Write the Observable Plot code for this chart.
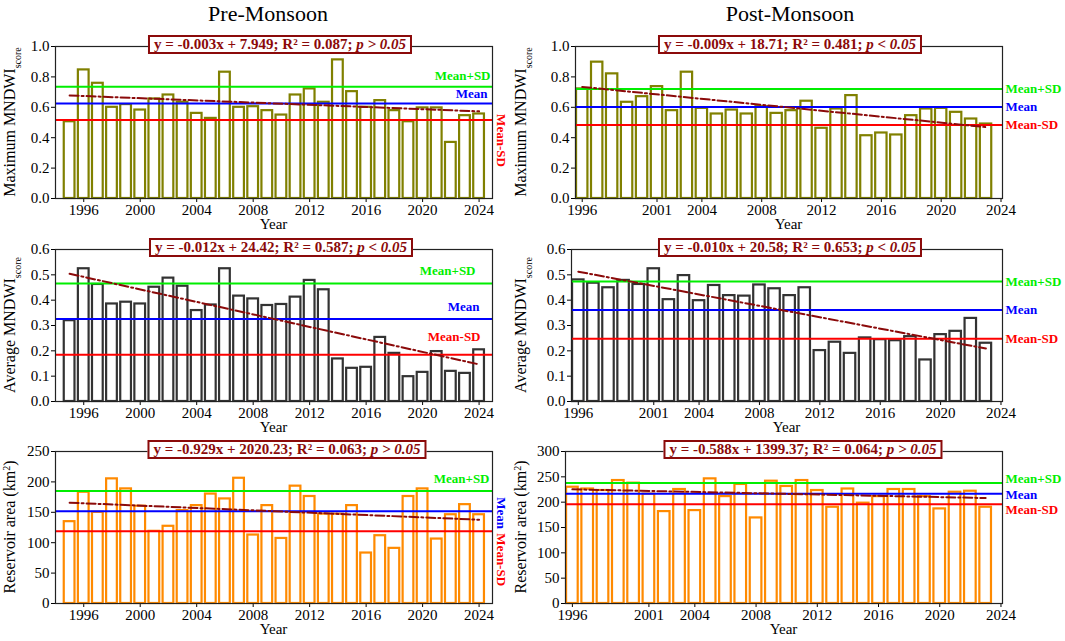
<!DOCTYPE html>
<html>
<head>
<meta charset="utf-8">
<script src="https://cdn.jsdelivr.net/npm/d3@7"></script>
<script src="https://cdn.jsdelivr.net/npm/@observablehq/plot@0.6"></script>
<style>
  body { margin: 0; background: #fff; }
  #fig { position: relative; width: 1065px; height: 641px; font-family: "Liberation Serif", "Times New Roman", serif; overflow: hidden; }
  #fig svg { position: absolute; }
  #fig svg, #fig svg text { font-family: "Liberation Serif", "Times New Roman", serif !important; }
  #fig svg g[aria-label*="axis"] text { font-size: 15px !important; fill: #000; }
  .col-title { position: absolute; top: 2px; font-size: 22px; font-weight: normal; line-height: 24px; transform: translateX(-50%); white-space: nowrap; }
  .eq { position: absolute; transform: translateX(-50%); background: #fff; border: 2px solid #8b0a0a; color: #8b0a0a;
        font-weight: bold; font-size: 15px; line-height: 15px; padding: 0 4px; white-space: nowrap; }
</style>
</head>
<body>
<div id="fig"></div>
<script>
// years
const preYears = [1995, 1996, 1997, 1998, 1999, 2000, 2001, 2002, 2003, 2004, 2005, 2006, 2007, 2008, 2009,
                  2010, 2011, 2012, 2013, 2014, 2015, 2016, 2017, 2018, 2019, 2020, 2021, 2022, 2023, 2024];
const postYears = [1996, 1997, 1998, 1999, 2000, 2001, 2002, 2003, 2004, 2005, 2006, 2007, 2008, 2009,
                   2010, 2011, 2012, 2013, 2014, 2015, 2016, 2017, 2018, 2019, 2020, 2021, 2022, 2023];

// series
const preMax = [0.505, 0.846, 0.758, 0.600, 0.618, 0.582, 0.655, 0.681, 0.633, 0.560, 0.527, 0.831, 0.600, 0.604, 0.578,
                0.549, 0.681, 0.721, 0.633, 0.912, 0.703, 0.600, 0.644, 0.578, 0.505, 0.596, 0.596, 0.369, 0.545, 0.556];
const preAvg = [0.319, 0.524, 0.462, 0.385, 0.392, 0.385, 0.451, 0.487, 0.455, 0.359, 0.381, 0.524, 0.416, 0.405, 0.379,
                0.383, 0.412, 0.478, 0.441, 0.168, 0.131, 0.135, 0.253, 0.190, 0.098, 0.115, 0.197, 0.119, 0.111, 0.204];
const preArea = [134.6, 183.0, 150.0, 205.0, 188.5, 160.0, 118.7, 127.0, 152.8, 161.0, 180.0, 172.0, 206.0, 112.6, 161.0,
                 107.0, 193.0, 176.0, 147.0, 147.0, 161.0, 83.0, 111.5, 90.7, 176.0, 188.5, 106.0, 146.0, 162.6, 146.0];
const postMax = [0.721, 0.897, 0.820, 0.633, 0.670, 0.736, 0.578, 0.831, 0.593, 0.556, 0.582, 0.556, 0.604, 0.560,
                 0.578, 0.640, 0.462, 0.589, 0.677, 0.413, 0.431, 0.418, 0.545, 0.589, 0.593, 0.567, 0.523, 0.490];
const postAvg = [0.480, 0.467, 0.449, 0.478, 0.462, 0.524, 0.402, 0.497, 0.398, 0.458, 0.418, 0.416, 0.460, 0.445,
                 0.418, 0.449, 0.201, 0.234, 0.190, 0.251, 0.244, 0.240, 0.256, 0.164, 0.264, 0.277, 0.328, 0.230];
const postArea = [229.5, 226.0, 223.0, 242.7, 237.5, 216.0, 181.4, 225.0, 183.4, 246.0, 211.0, 235.0, 168.9, 241.4,
                  231.0, 242.7, 223.0, 190.0, 226.0, 198.0, 211.0, 225.0, 225.0, 211.0, 186.7, 219.6, 221.6, 190.0];

// tick labels
const preTicks = [1996, 2000, 2004, 2008, 2012, 2016, 2020, 2024];
const postTicks = [1996, 2001, 2004, 2008, 2012, 2016, 2020, 2024];
const ticksIndex = [0, 0.2, 0.4, 0.6, 0.8, 1.0];
const ticksAvg = [0, 0.1, 0.2, 0.3, 0.4, 0.5, 0.6];
const ticksPreArea = [0, 50, 100, 150, 200, 250];
const ticksPostArea = [0, 50, 100, 150, 200, 250, 300];

// regression equations as printed
const equations = [
  ["y = -0.003x + 7.949; R² = 0.087; ", "p > 0.05"],
  ["y = -0.012x + 24.42; R² = 0.587; ", "p < 0.05"],
  ["y = -0.929x + 2020.23; R² = 0.063; ", "p > 0.05"],
  ["y = -0.009x + 18.71; R² = 0.481; ", "p < 0.05"],
  ["y = -0.010x + 20.58; R² = 0.653; ", "p < 0.05"],
  ["y = -0.588x + 1399.37; R² = 0.064; ", "p > 0.05"]
];

const fig = d3.select("#fig");
fig.append("div").attr("class", "col-title").style("left", "268px").text("Pre-Monsoon");
fig.append("div").attr("class", "col-title").style("left", "790px").text("Post-Monsoon");

const statColors = ["#00ee00", "#0000ff", "#ff0000"];
const statNames = ["Mean+SD", "Mean", "Mean-SD"];

function drawPanel(p) {
  const rows = p.years.map((year, i) => ({year, v: p.values[i]}));
  const mean = d3.mean(p.values), sd = d3.deviation(p.values);
  const stats = [mean + sd, mean, mean - sd].map((v, i) => ({v, label: statNames[i], color: statColors[i], ...p.labels[i]}));

  const chart = Plot.plot({
    width: p.w, height: p.h,
    marginLeft: p.mL, marginRight: p.mR, marginTop: p.mT, marginBottom: p.mB,
    x: {domain: p.xDomain, ticks: p.xTicks, tickFormat: "d", label: null, tickSize: 4, tickPadding: 2},
    y: {domain: p.yDomain, ticks: p.yTicks, tickFormat: p.fmt, label: null, tickSize: 4, tickPadding: 2},
    style: {fontFamily: "Liberation Serif, Times New Roman, serif", fontSize: "15px", color: "#000", background: "transparent", overflow: "visible"},
    marks: [
      Plot.rectY(rows, {x1: d => d.year - 0.38, x2: d => d.year + 0.38, y1: 0, y2: "v", fill: "white", stroke: p.color, strokeWidth: 2.2}),
      ...stats.map(s => Plot.ruleY([s.v], {stroke: s.color, strokeWidth: 2})),
      Plot.linearRegressionY(rows, {x: "year", y: "v", stroke: "#8b0a0a", strokeWidth: 2, strokeDasharray: "9,3,2,3", ci: 0}),
      ...stats.map(s => Plot.text([s], {
        y: "v", text: "label", frameAnchor: "right", fill: s.color, fontWeight: "bold", fontSize: 13,
        rotate: s.rotate || 0, dx: s.dx, dy: s.dy, textAnchor: s.anchor
      })),
      Plot.frame({stroke: "#222", strokeWidth: 1.2})
    ]
  });

  const svg = d3.select(chart).style("left", p.left + "px").style("top", p.top + "px");
  const frameBottom = p.h - p.mB, cx = p.mL + (p.w - p.mL - p.mR) / 2;
  svg.append("text").attr("x", cx).attr("y", frameBottom + 31).attr("text-anchor", "middle")
    .style("font-size", "15px").text("Year");

  const cy = p.mT + (p.h - p.mT - p.mB) / 2;
  const t = svg.append("text").attr("transform", `translate(${p.titleX},${cy}) rotate(-90)`)
    .attr("text-anchor", "middle").style("font-size", "16px");
  p.yTitle.forEach(part => {
    const span = t.append("tspan").text(part.text);
    if (part.shift) span.attr("baseline-shift", part.shift).style("font-size", part.size);
  });
  fig.node().appendChild(chart);

  const eq = fig.append("div").attr("class", "eq")
    .style("left", p.eqX + "px").style("top", (p.top + p.mT - 11) + "px");
  eq.append("span").text(p.eq[0]);
  eq.append("i").text(p.eq[1]);
}

const titleMax = [{text: "Maximum MNDWI"}, {text: "score", shift: "sub", size: "10px"}];
const titleAvg = [{text: "Average MNDWI"}, {text: "score", shift: "sub", size: "10px"}];
const titleArea = [{text: "Reservoir area (km"}, {text: "2", shift: "super", size: "10px"}, {text: ")"}];

const leftCol = {left: 0, w: 520, mL: 55, mR: 28, xDomain: [1994.0, 2024.95], xTicks: preTicks, years: preYears, titleX: 15};
const rightCol = {left: 505, w: 560, mR: 63, xDomain: [1995.55, 2024.1], xTicks: postTicks, years: postYears, titleX: 21};
const rowTop = {top: 30, h: 205, mT: 16, mB: 37};
const rowMid = {top: 232, h: 205, mT: 17, mB: 36};
const rowBot = {top: 434, h: 207, mT: 17, mB: 38};
const fmt1 = d3.format(".1f"), fmt0 = d3.format("d");

drawPanel({...leftCol, ...rowTop, values: preMax, color: "#808000", yDomain: [0, 1], yTicks: ticksIndex, fmt: fmt1,
  yTitle: titleMax, eq: equations[0], eqX: 280,
  labels: [{dx: -2, dy: -11, anchor: "end"}, {dx: -5, dy: -10, anchor: "end"}, {rotate: 90, dx: 9, dy: -6, anchor: "start"}]});
drawPanel({...leftCol, ...rowMid, values: preAvg, color: "#333333", yDomain: [0, 0.6], yTicks: ticksAvg, fmt: fmt1,
  yTitle: titleAvg, eq: equations[1], eqX: 281,
  labels: [{dx: -17, dy: -13, anchor: "end"}, {dx: -13, dy: -12, anchor: "end"}, {dx: -12, dy: -18, anchor: "end"}]});
drawPanel({...leftCol, ...rowBot, values: preArea, color: "#ff8a00", yDomain: [0, 250], yTicks: ticksPreArea, fmt: fmt0,
  yTitle: titleArea, eq: equations[2], eqX: 287,
  labels: [{dx: -3, dy: -12, anchor: "end"}, {rotate: 90, dx: 9, dy: -14, anchor: "start"}, {rotate: 90, dx: 9, dy: 2, anchor: "start"}]});

drawPanel({...rightCol, ...rowTop, mL: 70, values: postMax, color: "#808000", yDomain: [0, 1], yTicks: ticksIndex, fmt: fmt1,
  yTitle: titleMax, eq: equations[3], eqX: 790,
  labels: [{dx: 3, dy: 0, anchor: "start"}, {dx: 3, dy: 0, anchor: "start"}, {dx: 3, dy: 0, anchor: "start"}]});
drawPanel({...rightCol, ...rowMid, mL: 66, values: postAvg, color: "#333333", yDomain: [0, 0.6], yTicks: ticksAvg, fmt: fmt1,
  yTitle: titleAvg, eq: equations[4], eqX: 790,
  labels: [{dx: 3, dy: 0, anchor: "start"}, {dx: 3, dy: 0, anchor: "start"}, {dx: 3, dy: 0, anchor: "start"}]});
drawPanel({...rightCol, ...rowBot, mL: 60, values: postArea, color: "#ff8a00", yDomain: [0, 300], yTicks: ticksPostArea, fmt: fmt0,
  yTitle: titleArea, eq: equations[5], eqX: 803,
  labels: [{dx: 3, dy: -4, anchor: "start"}, {dx: 3, dy: 1, anchor: "start"}, {dx: 3, dy: 5, anchor: "start"}]});
</script>
</body>
</html>
